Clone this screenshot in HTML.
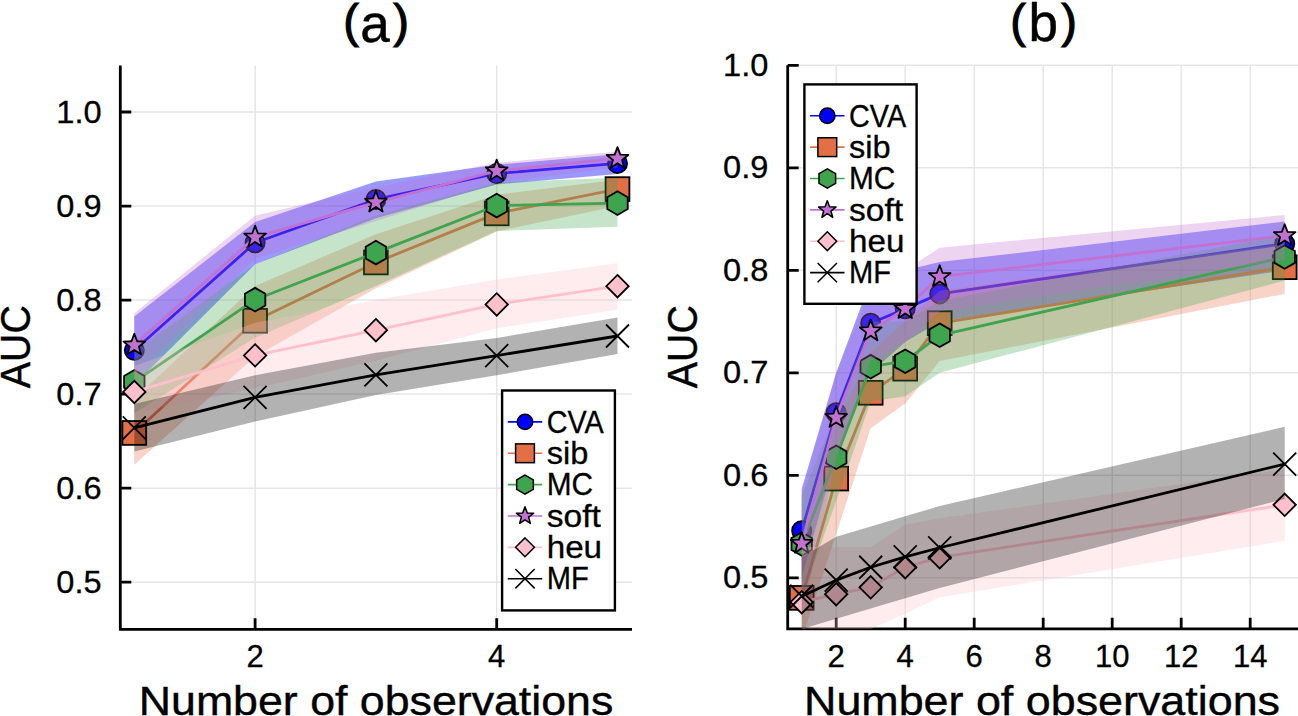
<!DOCTYPE html>
<html><head><meta charset="utf-8"><title>AUC vs number of observations</title>
<style>
html,body{margin:0;padding:0;background:#fff;}
body{width:1298px;height:716px;overflow:hidden;}
svg{display:block;font-family:"Liberation Sans", sans-serif;}
.tk{font-size:31px;fill:#000;stroke:#000;stroke-width:0.3px;}
.lg{font-size:31px;fill:#000;stroke:#000;stroke-width:0.3px;}
.tt{font-size:53px;fill:#000;stroke:#000;stroke-width:0.5px;}
.gd{font-size:40px;fill:#000;stroke:#000;stroke-width:0.4px;}
.yl{font-size:42px;fill:#000;stroke:#000;stroke-width:0.4px;}
.pr{font-size:47px;fill:#000;stroke:#000;stroke-width:1.1px;}
</style></head><body>
<svg width="1298" height="716" viewBox="0 0 1298 716">
<rect width="1298" height="716" fill="#fff"/>
<clipPath id="ca"><rect x="120.30" y="65.40" width="511.70" height="563.90"/></clipPath>
<path d="M120.30 582.20H632.00M120.30 488.16H632.00M120.30 394.12H632.00M120.30 300.08H632.00M120.30 206.04H632.00M120.30 112.00H632.00M255.10 65.40V629.30M496.70 65.40V629.30" stroke="rgb(0,0,0)" stroke-opacity="0.1" stroke-width="1.5" fill="none"/>
<path d="M120.30 65.40V630.70M118.90 629.30H632.00M120.30 582.20H131.30M120.30 488.16H131.30M120.30 394.12H131.30M120.30 300.08H131.30M120.30 206.04H131.30M120.30 112.00H131.30M255.10 629.30V618.30M496.70 629.30V618.30" stroke="#000" stroke-width="2.8" fill="none"/>
<g clip-path="url(#ca)">
<polygon points="134.30,316.54 255.10,222.03 375.90,181.59 496.70,164.66 617.50,154.32 617.50,174.07 496.70,184.41 375.90,218.27 255.10,264.34 134.30,384.72" fill="rgb(0,0,255)" fill-opacity="0.40"/>
<polyline points="134.30,350.30 255.10,242.72 375.90,199.46 496.70,173.50 617.50,163.44" fill="none" stroke="rgb(0,0,255)" stroke-width="2.80" stroke-linejoin="round"/>
<circle cx="134.30" cy="350.30" r="9.60" fill="rgb(0,0,255)" stroke="#000" stroke-width="1.80"/>
<circle cx="255.10" cy="242.72" r="9.60" fill="rgb(0,0,255)" stroke="#000" stroke-width="1.80"/>
<circle cx="375.90" cy="199.46" r="9.60" fill="rgb(0,0,255)" stroke="#000" stroke-width="1.80"/>
<circle cx="496.70" cy="173.50" r="9.60" fill="rgb(0,0,255)" stroke="#000" stroke-width="1.80"/>
<circle cx="617.50" cy="163.44" r="9.60" fill="rgb(0,0,255)" stroke="#000" stroke-width="1.80"/>
<polygon points="134.30,398.82 255.10,285.97 375.90,234.25 496.70,194.76 617.50,179.71 617.50,206.04 496.70,231.43 375.90,288.33 255.10,356.50 134.30,464.65" fill="rgb(227,111,71)" fill-opacity="0.30"/>
<polyline points="134.30,432.96 255.10,320.77 375.90,262.46 496.70,213.38 617.50,189.11" fill="none" stroke="rgb(227,111,71)" stroke-width="2.80" stroke-linejoin="round"/>
<rect x="122.40" y="421.06" width="23.80" height="23.80" fill="rgb(227,111,71)" stroke="#000" stroke-width="1.80"/>
<rect x="243.20" y="308.87" width="23.80" height="23.80" fill="rgb(227,111,71)" stroke="#000" stroke-width="1.80"/>
<rect x="364.00" y="250.56" width="23.80" height="23.80" fill="rgb(227,111,71)" stroke="#000" stroke-width="1.80"/>
<rect x="484.80" y="201.48" width="23.80" height="23.80" fill="rgb(227,111,71)" stroke="#000" stroke-width="1.80"/>
<rect x="605.60" y="177.21" width="23.80" height="23.80" fill="rgb(227,111,71)" stroke="#000" stroke-width="1.80"/>
<polygon points="134.30,351.80 255.10,264.34 375.90,215.44 496.70,182.53 617.50,177.83 617.50,226.73 496.70,230.96 375.90,285.97 255.10,337.70 134.30,412.93" fill="rgb(62,164,78)" fill-opacity="0.30"/>
<polyline points="134.30,381.89 255.10,299.70 375.90,252.59 496.70,205.57 617.50,203.12" fill="none" stroke="rgb(62,164,78)" stroke-width="2.80" stroke-linejoin="round"/>
<polygon points="134.30,370.09 124.08,375.99 124.08,387.79 134.30,393.69 144.52,387.79 144.52,375.99" fill="rgb(62,164,78)" stroke="#000" stroke-width="1.80"/>
<polygon points="255.10,287.90 244.88,293.80 244.88,305.60 255.10,311.50 265.32,305.60 265.32,293.80" fill="rgb(62,164,78)" stroke="#000" stroke-width="1.80"/>
<polygon points="375.90,240.79 365.68,246.69 365.68,258.49 375.90,264.39 386.12,258.49 386.12,246.69" fill="rgb(62,164,78)" stroke="#000" stroke-width="1.80"/>
<polygon points="496.70,193.77 486.48,199.67 486.48,211.47 496.70,217.37 506.92,211.47 506.92,199.67" fill="rgb(62,164,78)" stroke="#000" stroke-width="1.80"/>
<polygon points="617.50,191.32 607.28,197.22 607.28,209.02 617.50,214.92 627.72,209.02 627.72,197.22" fill="rgb(62,164,78)" stroke="#000" stroke-width="1.80"/>
<polygon points="134.30,313.25 255.10,215.63 375.90,187.23 496.70,162.78 617.50,151.50 617.50,167.48 496.70,182.53 375.90,221.09 255.10,258.70 134.30,375.31" fill="rgb(194,113,210)" fill-opacity="0.30"/>
<polyline points="134.30,345.13 255.10,237.17 375.90,202.28 496.70,170.96 617.50,158.46" fill="none" stroke="rgb(194,113,210)" stroke-width="2.80" stroke-linejoin="round"/>
<polygon points="134.30,333.73 131.49,341.25 123.46,341.60 129.75,346.60 127.60,354.35 134.30,349.91 141.00,354.35 138.85,346.60 145.14,341.60 137.11,341.25" fill="rgb(194,113,210)" stroke="#000" stroke-width="1.80" stroke-linejoin="round"/>
<polygon points="255.10,225.77 252.29,233.29 244.26,233.64 250.55,238.65 248.40,246.39 255.10,241.96 261.80,246.39 259.65,238.65 265.94,233.64 257.91,233.29" fill="rgb(194,113,210)" stroke="#000" stroke-width="1.80" stroke-linejoin="round"/>
<polygon points="375.90,190.88 373.09,198.40 365.06,198.76 371.35,203.76 369.20,211.50 375.90,207.07 382.60,211.50 380.45,203.76 386.74,198.76 378.71,198.40" fill="rgb(194,113,210)" stroke="#000" stroke-width="1.80" stroke-linejoin="round"/>
<polygon points="496.70,159.56 493.89,167.09 485.86,167.44 492.15,172.44 490.00,180.19 496.70,175.75 503.40,180.19 501.25,172.44 507.54,167.44 499.51,167.09" fill="rgb(194,113,210)" stroke="#000" stroke-width="1.80" stroke-linejoin="round"/>
<polygon points="617.50,147.06 614.69,154.58 606.66,154.93 612.95,159.94 610.80,167.68 617.50,163.24 624.20,167.68 622.05,159.94 628.34,154.93 620.31,154.58" fill="rgb(194,113,210)" stroke="#000" stroke-width="1.80" stroke-linejoin="round"/>
<polygon points="134.30,365.91 255.10,322.65 375.90,300.08 496.70,279.39 617.50,263.31 617.50,309.67 496.70,328.29 375.90,360.83 255.10,388.20 134.30,412.93" fill="rgb(255,192,203)" fill-opacity="0.30"/>
<polyline points="134.30,391.96 255.10,355.38 375.90,330.17 496.70,304.41 617.50,286.16" fill="none" stroke="rgb(255,192,203)" stroke-width="2.80" stroke-linejoin="round"/>
<polygon points="134.30,380.76 145.50,391.96 134.30,403.16 123.10,391.96" fill="rgb(255,192,203)" stroke="#000" stroke-width="1.80"/>
<polygon points="255.10,344.18 266.30,355.38 255.10,366.58 243.90,355.38" fill="rgb(255,192,203)" stroke="#000" stroke-width="1.80"/>
<polygon points="375.90,318.97 387.10,330.17 375.90,341.37 364.70,330.17" fill="rgb(255,192,203)" stroke="#000" stroke-width="1.80"/>
<polygon points="496.70,293.21 507.90,304.41 496.70,315.61 485.50,304.41" fill="rgb(255,192,203)" stroke="#000" stroke-width="1.80"/>
<polygon points="617.50,274.96 628.70,286.16 617.50,297.36 606.30,286.16" fill="rgb(255,192,203)" stroke="#000" stroke-width="1.80"/>
<polygon points="134.30,403.99 255.10,375.31 375.90,352.74 496.70,337.98 617.50,317.48 617.50,353.96 496.70,375.31 375.90,395.06 255.10,421.39 134.30,451.48" fill="rgb(0,0,0)" fill-opacity="0.30"/>
<polyline points="134.30,427.97 255.10,397.32 375.90,374.94 496.70,355.56 617.50,336.00" fill="none" stroke="rgb(0,0,0)" stroke-width="2.80" stroke-linejoin="round"/>
<path d="M122.80 416.47L145.80 439.47M122.80 439.47L145.80 416.47" stroke="#000" stroke-width="1.80" fill="none"/>
<path d="M243.60 385.82L266.60 408.82M243.60 408.82L266.60 385.82" stroke="#000" stroke-width="1.80" fill="none"/>
<path d="M364.40 363.44L387.40 386.44M364.40 386.44L387.40 363.44" stroke="#000" stroke-width="1.80" fill="none"/>
<path d="M485.20 344.06L508.20 367.06M485.20 367.06L508.20 344.06" stroke="#000" stroke-width="1.80" fill="none"/>
<path d="M606.00 324.50L629.00 347.50M606.00 347.50L629.00 324.50" stroke="#000" stroke-width="1.80" fill="none"/>
</g>
<text x="101.60" y="592.80" text-anchor="end" class="tk" textLength="45.3" lengthAdjust="spacingAndGlyphs">0.5</text>
<text x="101.60" y="498.76" text-anchor="end" class="tk" textLength="45.3" lengthAdjust="spacingAndGlyphs">0.6</text>
<text x="101.60" y="404.72" text-anchor="end" class="tk" textLength="45.3" lengthAdjust="spacingAndGlyphs">0.7</text>
<text x="101.60" y="310.68" text-anchor="end" class="tk" textLength="45.3" lengthAdjust="spacingAndGlyphs">0.8</text>
<text x="101.60" y="216.64" text-anchor="end" class="tk" textLength="45.3" lengthAdjust="spacingAndGlyphs">0.9</text>
<text x="101.60" y="122.60" text-anchor="end" class="tk" textLength="45.3" lengthAdjust="spacingAndGlyphs">1.0</text>
<text x="255.10" y="666.50" text-anchor="middle" class="tk">2</text>
<text x="496.70" y="666.50" text-anchor="middle" class="tk">4</text>
<rect x="502.10" y="390.50" width="112.80" height="219.90" fill="#fff" stroke="#000" stroke-width="2.4"/>
<path d="M507.80 421.90H542.20" stroke="rgb(0,0,255)" stroke-width="1.6"/>
<circle cx="525.00" cy="421.90" r="7.68" fill="rgb(0,0,255)" stroke="#000" stroke-width="1.50"/>
<text x="546.70" y="432.60" class="lg" textLength="57.1" lengthAdjust="spacingAndGlyphs">CVA</text>
<path d="M507.80 453.26H542.20" stroke="rgb(227,111,71)" stroke-width="1.6"/>
<rect x="515.60" y="443.86" width="18.80" height="18.80" fill="rgb(227,111,71)" stroke="#000" stroke-width="1.50"/>
<text x="546.70" y="463.96" class="lg" textLength="41.6" lengthAdjust="spacingAndGlyphs">sib</text>
<path d="M507.80 484.62H542.20" stroke="rgb(62,164,78)" stroke-width="1.6"/>
<polygon points="525.00,475.00 516.67,479.81 516.67,489.43 525.00,494.24 533.33,489.43 533.33,479.81" fill="rgb(62,164,78)" stroke="#000" stroke-width="1.50"/>
<text x="546.70" y="495.32" class="lg" textLength="46.4" lengthAdjust="spacingAndGlyphs">MC</text>
<path d="M507.80 515.98H542.20" stroke="rgb(194,113,210)" stroke-width="1.6"/>
<polygon points="525.00,506.86 522.75,512.88 516.33,513.16 521.36,517.16 519.64,523.36 525.00,519.81 530.36,523.36 528.64,517.16 533.67,513.16 527.25,512.88" fill="rgb(194,113,210)" stroke="#000" stroke-width="1.50" stroke-linejoin="round"/>
<text x="546.70" y="526.68" class="lg" textLength="54.1" lengthAdjust="spacingAndGlyphs">soft</text>
<path d="M507.80 547.34H542.20" stroke="rgb(255,192,203)" stroke-width="1.6"/>
<polygon points="525.00,537.93 534.41,547.34 525.00,556.75 515.59,547.34" fill="rgb(255,192,203)" stroke="#000" stroke-width="1.50"/>
<text x="546.70" y="558.04" class="lg" textLength="55.4" lengthAdjust="spacingAndGlyphs">heu</text>
<path d="M507.80 578.70H542.20" stroke="rgb(0,0,0)" stroke-width="1.6"/>
<path d="M515.34 569.04L534.66 588.36M515.34 588.36L534.66 569.04" stroke="#000" stroke-width="1.50" fill="none"/>
<text x="546.70" y="589.40" class="lg" textLength="42.0" lengthAdjust="spacingAndGlyphs">MF</text>
<clipPath id="cb"><rect x="787.70" y="65.30" width="510.30" height="563.50"/></clipPath>
<path d="M787.70 577.80H1298.00M787.70 475.30H1298.00M787.70 372.80H1298.00M787.70 270.30H1298.00M787.70 167.80H1298.00M787.70 65.30H1298.00M836.20 65.30V628.80M905.20 65.30V628.80M974.20 65.30V628.80M1043.20 65.30V628.80M1112.20 65.30V628.80M1181.20 65.30V628.80M1250.20 65.30V628.80" stroke="rgb(0,0,0)" stroke-opacity="0.1" stroke-width="1.5" fill="none"/>
<path d="M787.70 65.30V630.20M786.30 628.80H1298.00M787.70 577.80H798.70M787.70 475.30H798.70M787.70 372.80H798.70M787.70 270.30H798.70M787.70 167.80H798.70M787.70 65.30H798.70M836.20 628.80V617.80M905.20 628.80V617.80M974.20 628.80V617.80M1043.20 628.80V617.80M1112.20 628.80V617.80M1181.20 628.80V617.80M1250.20 628.80V617.80" stroke="#000" stroke-width="2.8" fill="none"/>
<g clip-path="url(#cb)">
<polygon points="801.70,488.63 836.20,372.80 870.70,280.55 905.20,270.30 939.70,262.10 1284.70,221.61 1284.70,270.30 939.70,321.55 905.20,342.05 870.70,372.80 836.20,454.80 801.70,577.80" fill="rgb(0,0,255)" fill-opacity="0.40"/>
<polyline points="801.70,530.65 836.20,412.77 870.70,323.19 905.20,308.74 939.70,293.88 1284.70,243.65" fill="none" stroke="rgb(0,0,255)" stroke-width="2.80" stroke-linejoin="round"/>
<circle cx="801.70" cy="530.65" r="9.60" fill="rgb(0,0,255)" stroke="#000" stroke-width="1.80"/>
<circle cx="836.20" cy="412.77" r="9.60" fill="rgb(0,0,255)" stroke="#000" stroke-width="1.80"/>
<circle cx="870.70" cy="323.19" r="9.60" fill="rgb(0,0,255)" stroke="#000" stroke-width="1.80"/>
<circle cx="905.20" cy="308.74" r="9.60" fill="rgb(0,0,255)" stroke="#000" stroke-width="1.80"/>
<circle cx="939.70" cy="293.88" r="9.60" fill="rgb(0,0,255)" stroke="#000" stroke-width="1.80"/>
<circle cx="1284.70" cy="243.65" r="9.60" fill="rgb(0,0,255)" stroke="#000" stroke-width="1.80"/>
<polygon points="801.70,557.30 836.20,424.05 870.70,352.30 905.20,321.55 939.70,290.80 1284.70,243.65 1284.70,293.88 939.70,361.11 905.20,403.55 870.70,428.15 836.20,533.72 801.70,639.30" fill="rgb(227,111,71)" fill-opacity="0.30"/>
<polyline points="801.70,597.89 836.20,478.58 870.70,392.79 905.20,368.70 939.70,323.19 1284.70,267.22" fill="none" stroke="rgb(227,111,71)" stroke-width="2.80" stroke-linejoin="round"/>
<rect x="789.80" y="585.99" width="23.80" height="23.80" fill="rgb(227,111,71)" stroke="#000" stroke-width="1.80"/>
<rect x="824.30" y="466.68" width="23.80" height="23.80" fill="rgb(227,111,71)" stroke="#000" stroke-width="1.80"/>
<rect x="858.80" y="380.89" width="23.80" height="23.80" fill="rgb(227,111,71)" stroke="#000" stroke-width="1.80"/>
<rect x="893.30" y="356.80" width="23.80" height="23.80" fill="rgb(227,111,71)" stroke="#000" stroke-width="1.80"/>
<rect x="927.80" y="311.29" width="23.80" height="23.80" fill="rgb(227,111,71)" stroke="#000" stroke-width="1.80"/>
<rect x="1272.80" y="255.32" width="23.80" height="23.80" fill="rgb(227,111,71)" stroke="#000" stroke-width="1.80"/>
<polygon points="801.70,495.80 836.20,413.80 870.70,321.55 905.20,321.55 939.70,301.05 1284.70,234.43 1284.70,280.55 939.70,372.80 905.20,396.37 870.70,401.50 836.20,500.93 801.70,598.30" fill="rgb(62,164,78)" fill-opacity="0.30"/>
<polyline points="801.70,543.97 836.20,457.26 870.70,366.65 905.20,361.22 939.70,335.28 1284.70,256.98" fill="none" stroke="rgb(62,164,78)" stroke-width="2.80" stroke-linejoin="round"/>
<polygon points="801.70,532.17 791.48,538.07 791.48,549.87 801.70,555.77 811.92,549.87 811.92,538.07" fill="rgb(62,164,78)" stroke="#000" stroke-width="1.80"/>
<polygon points="836.20,445.46 825.98,451.36 825.98,463.16 836.20,469.06 846.42,463.16 846.42,451.36" fill="rgb(62,164,78)" stroke="#000" stroke-width="1.80"/>
<polygon points="870.70,354.85 860.48,360.75 860.48,372.55 870.70,378.45 880.92,372.55 880.92,360.75" fill="rgb(62,164,78)" stroke="#000" stroke-width="1.80"/>
<polygon points="905.20,349.42 894.98,355.32 894.98,367.12 905.20,373.02 915.42,367.12 915.42,355.32" fill="rgb(62,164,78)" stroke="#000" stroke-width="1.80"/>
<polygon points="939.70,323.48 929.48,329.38 929.48,341.18 939.70,347.08 949.92,341.18 949.92,329.38" fill="rgb(62,164,78)" stroke="#000" stroke-width="1.80"/>
<polygon points="1284.70,245.18 1274.48,251.08 1274.48,262.88 1284.70,268.78 1294.92,262.88 1294.92,251.08" fill="rgb(62,164,78)" stroke="#000" stroke-width="1.80"/>
<polygon points="801.70,495.80 836.20,372.80 870.70,290.80 905.20,270.30 939.70,247.75 1284.70,214.95 1284.70,260.05 939.70,311.30 905.20,342.05 870.70,360.50 836.20,457.88 801.70,618.80" fill="rgb(194,113,210)" fill-opacity="0.30"/>
<polyline points="801.70,543.46 836.20,417.59 870.70,330.98 905.20,308.74 939.70,276.66 1284.70,235.66" fill="none" stroke="rgb(194,113,210)" stroke-width="2.80" stroke-linejoin="round"/>
<polygon points="801.70,532.06 798.89,539.59 790.86,539.94 797.15,544.94 795.00,552.69 801.70,548.25 808.40,552.69 806.25,544.94 812.54,539.94 804.51,539.59" fill="rgb(194,113,210)" stroke="#000" stroke-width="1.80" stroke-linejoin="round"/>
<polygon points="836.20,406.19 833.39,413.72 825.36,414.07 831.65,419.07 829.50,426.82 836.20,422.38 842.90,426.82 840.75,419.07 847.04,414.07 839.01,413.72" fill="rgb(194,113,210)" stroke="#000" stroke-width="1.80" stroke-linejoin="round"/>
<polygon points="870.70,319.58 867.89,327.11 859.86,327.46 866.15,332.46 864.00,340.20 870.70,335.77 877.40,340.20 875.25,332.46 881.54,327.46 873.51,327.11" fill="rgb(194,113,210)" stroke="#000" stroke-width="1.80" stroke-linejoin="round"/>
<polygon points="905.20,297.34 902.39,304.86 894.36,305.21 900.65,310.22 898.50,317.96 905.20,313.53 911.90,317.96 909.75,310.22 916.04,305.21 908.01,304.86" fill="rgb(194,113,210)" stroke="#000" stroke-width="1.80" stroke-linejoin="round"/>
<polygon points="939.70,265.26 936.89,272.78 928.86,273.13 935.15,278.13 933.00,285.88 939.70,281.44 946.40,285.88 944.25,278.13 950.54,273.13 942.51,272.78" fill="rgb(194,113,210)" stroke="#000" stroke-width="1.80" stroke-linejoin="round"/>
<polygon points="1284.70,224.26 1281.89,231.78 1273.86,232.13 1280.15,237.13 1278.00,244.88 1284.70,240.44 1291.40,244.88 1289.25,237.13 1295.54,232.13 1287.51,231.78" fill="rgb(194,113,210)" stroke="#000" stroke-width="1.80" stroke-linejoin="round"/>
<polygon points="801.70,547.05 836.20,547.05 870.70,547.05 905.20,524.50 939.70,518.35 1284.70,469.15 1284.70,540.90 939.70,597.27 905.20,613.67 870.70,629.05 836.20,639.30 801.70,649.55" fill="rgb(255,192,203)" fill-opacity="0.30"/>
<polyline points="801.70,602.20 836.20,594.20 870.70,587.33 905.20,567.24 939.70,557.30 1284.70,504.82" fill="none" stroke="rgb(255,192,203)" stroke-width="2.80" stroke-linejoin="round"/>
<polygon points="801.70,591.00 812.90,602.20 801.70,613.40 790.50,602.20" fill="rgb(255,192,203)" stroke="#000" stroke-width="1.80"/>
<polygon points="836.20,583.00 847.40,594.20 836.20,605.40 825.00,594.20" fill="rgb(255,192,203)" stroke="#000" stroke-width="1.80"/>
<polygon points="870.70,576.13 881.90,587.33 870.70,598.53 859.50,587.33" fill="rgb(255,192,203)" stroke="#000" stroke-width="1.80"/>
<polygon points="905.20,556.04 916.40,567.24 905.20,578.44 894.00,567.24" fill="rgb(255,192,203)" stroke="#000" stroke-width="1.80"/>
<polygon points="939.70,546.10 950.90,557.30 939.70,568.50 928.50,557.30" fill="rgb(255,192,203)" stroke="#000" stroke-width="1.80"/>
<polygon points="1284.70,493.62 1295.90,504.82 1284.70,516.02 1273.50,504.82" fill="rgb(255,192,203)" stroke="#000" stroke-width="1.80"/>
<polygon points="801.70,557.30 836.20,536.80 870.70,526.55 905.20,516.30 939.70,506.05 1284.70,426.82 1284.70,498.88 939.70,588.05 905.20,598.30 870.70,608.55 836.20,618.80 801.70,629.05" fill="rgb(0,0,0)" fill-opacity="0.30"/>
<polyline points="801.70,596.25 836.20,580.16 870.70,567.24 905.20,556.79 939.70,547.77 1284.70,464.03" fill="none" stroke="rgb(0,0,0)" stroke-width="2.80" stroke-linejoin="round"/>
<path d="M790.20 584.75L813.20 607.75M790.20 607.75L813.20 584.75" stroke="#000" stroke-width="1.80" fill="none"/>
<path d="M824.70 568.66L847.70 591.66M824.70 591.66L847.70 568.66" stroke="#000" stroke-width="1.80" fill="none"/>
<path d="M859.20 555.74L882.20 578.74M859.20 578.74L882.20 555.74" stroke="#000" stroke-width="1.80" fill="none"/>
<path d="M893.70 545.29L916.70 568.29M893.70 568.29L916.70 545.29" stroke="#000" stroke-width="1.80" fill="none"/>
<path d="M928.20 536.27L951.20 559.27M928.20 559.27L951.20 536.27" stroke="#000" stroke-width="1.80" fill="none"/>
<path d="M1273.20 452.53L1296.20 475.53M1273.20 475.53L1296.20 452.53" stroke="#000" stroke-width="1.80" fill="none"/>
</g>
<text x="768.40" y="588.40" text-anchor="end" class="tk" textLength="45.3" lengthAdjust="spacingAndGlyphs">0.5</text>
<text x="768.40" y="485.90" text-anchor="end" class="tk" textLength="45.3" lengthAdjust="spacingAndGlyphs">0.6</text>
<text x="768.40" y="383.40" text-anchor="end" class="tk" textLength="45.3" lengthAdjust="spacingAndGlyphs">0.7</text>
<text x="768.40" y="280.90" text-anchor="end" class="tk" textLength="45.3" lengthAdjust="spacingAndGlyphs">0.8</text>
<text x="768.40" y="178.40" text-anchor="end" class="tk" textLength="45.3" lengthAdjust="spacingAndGlyphs">0.9</text>
<text x="768.40" y="75.90" text-anchor="end" class="tk" textLength="45.3" lengthAdjust="spacingAndGlyphs">1.0</text>
<text x="836.20" y="666.50" text-anchor="middle" class="tk">2</text>
<text x="905.20" y="666.50" text-anchor="middle" class="tk">4</text>
<text x="974.20" y="666.50" text-anchor="middle" class="tk">6</text>
<text x="1043.20" y="666.50" text-anchor="middle" class="tk">8</text>
<text x="1112.20" y="666.50" text-anchor="middle" class="tk">10</text>
<text x="1181.20" y="666.50" text-anchor="middle" class="tk">12</text>
<text x="1250.20" y="666.50" text-anchor="middle" class="tk">14</text>
<rect x="804.40" y="84.40" width="112.20" height="219.40" fill="#fff" stroke="#000" stroke-width="2.4"/>
<path d="M810.10 115.80H844.50" stroke="rgb(0,0,255)" stroke-width="1.6"/>
<circle cx="827.30" cy="115.80" r="7.68" fill="rgb(0,0,255)" stroke="#000" stroke-width="1.50"/>
<text x="849.00" y="126.50" class="lg" textLength="57.1" lengthAdjust="spacingAndGlyphs">CVA</text>
<path d="M810.10 147.16H844.50" stroke="rgb(227,111,71)" stroke-width="1.6"/>
<rect x="817.90" y="137.76" width="18.80" height="18.80" fill="rgb(227,111,71)" stroke="#000" stroke-width="1.50"/>
<text x="849.00" y="157.86" class="lg" textLength="41.6" lengthAdjust="spacingAndGlyphs">sib</text>
<path d="M810.10 178.52H844.50" stroke="rgb(62,164,78)" stroke-width="1.6"/>
<polygon points="827.30,168.90 818.97,173.71 818.97,183.33 827.30,188.14 835.63,183.33 835.63,173.71" fill="rgb(62,164,78)" stroke="#000" stroke-width="1.50"/>
<text x="849.00" y="189.22" class="lg" textLength="46.4" lengthAdjust="spacingAndGlyphs">MC</text>
<path d="M810.10 209.88H844.50" stroke="rgb(194,113,210)" stroke-width="1.6"/>
<polygon points="827.30,200.76 825.05,206.78 818.63,207.06 823.66,211.06 821.94,217.26 827.30,213.71 832.66,217.26 830.94,211.06 835.97,207.06 829.55,206.78" fill="rgb(194,113,210)" stroke="#000" stroke-width="1.50" stroke-linejoin="round"/>
<text x="849.00" y="220.58" class="lg" textLength="54.1" lengthAdjust="spacingAndGlyphs">soft</text>
<path d="M810.10 241.24H844.50" stroke="rgb(255,192,203)" stroke-width="1.6"/>
<polygon points="827.30,231.83 836.71,241.24 827.30,250.65 817.89,241.24" fill="rgb(255,192,203)" stroke="#000" stroke-width="1.50"/>
<text x="849.00" y="251.94" class="lg" textLength="55.4" lengthAdjust="spacingAndGlyphs">heu</text>
<path d="M810.10 272.60H844.50" stroke="rgb(0,0,0)" stroke-width="1.6"/>
<path d="M817.64 262.94L836.96 282.26M817.64 282.26L836.96 262.94" stroke="#000" stroke-width="1.50" fill="none"/>
<text x="849.00" y="283.30" class="lg" textLength="42.0" lengthAdjust="spacingAndGlyphs">MF</text>
<text x="351.0" y="37.3" text-anchor="middle" class="pr">(</text><text x="375.0" y="41.6" text-anchor="middle" class="tt">a</text><text x="401.0" y="37.3" text-anchor="middle" class="pr">)</text>
<text x="1018.0" y="37.3" text-anchor="middle" class="pr">(</text><text x="1043.3" y="41.4" text-anchor="middle" class="tt">b</text><text x="1069.0" y="37.3" text-anchor="middle" class="pr">)</text>
<text x="376.0" y="714.5" text-anchor="middle" class="gd" textLength="474.5" lengthAdjust="spacingAndGlyphs">Number of observations</text>
<text x="1042.0" y="714.5" text-anchor="middle" class="gd" textLength="476" lengthAdjust="spacingAndGlyphs">Number of observations</text>
<text transform="translate(29.8,346.7) rotate(-90)" text-anchor="middle" class="yl" textLength="83" lengthAdjust="spacingAndGlyphs">AUC</text>
<text transform="translate(696.9,346.7) rotate(-90)" text-anchor="middle" class="yl" textLength="83" lengthAdjust="spacingAndGlyphs">AUC</text>
</svg>
</body></html>
